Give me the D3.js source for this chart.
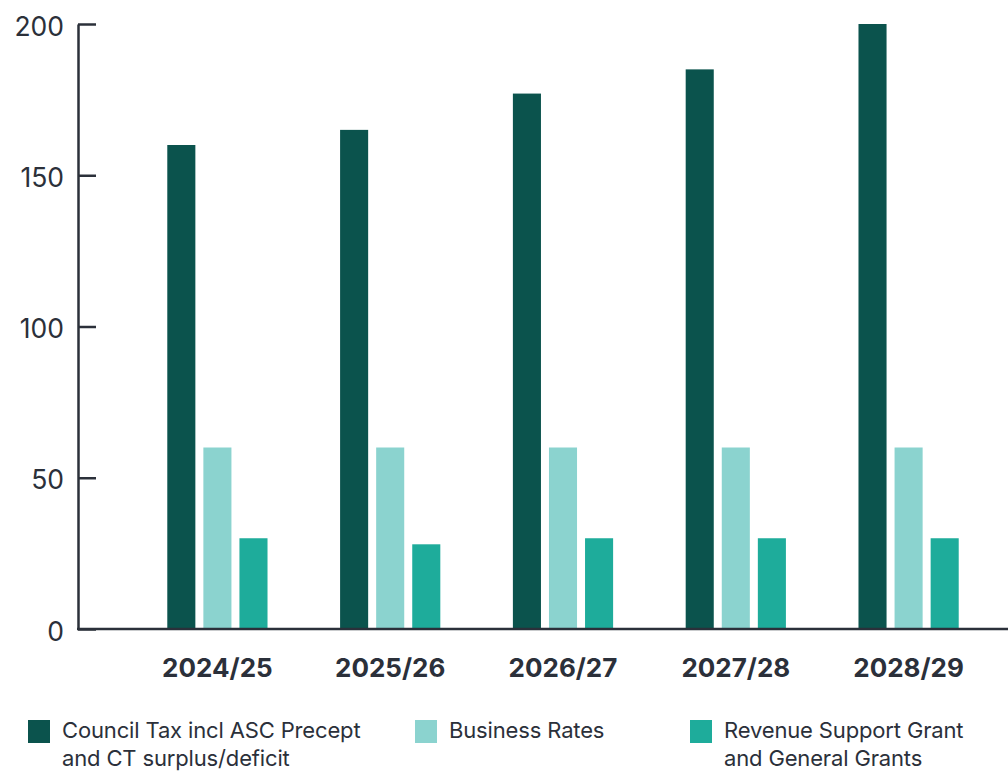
<!DOCTYPE html>
<html>
<head>
<meta charset="utf-8">
<script src="https://cdn.jsdelivr.net/npm/d3@7"></script>
<style>
  html, body { margin: 0; padding: 0; background: #fff; }
  svg { display: block; }
  svg text { font-family: "Inter", "Noto Sans", sans-serif; }
</style>
</head>
<body>
<div id="chart"></div>
<script>
// Data
const years = ["2024/25", "2025/26", "2026/27", "2027/28", "2028/29"];
const seriesNames = ["Council Tax incl ASC Precept\nand CT surplus/deficit", "Business Rates", "Revenue Support Grant\nand General Grants"];
const councilTax = [160, 165, 177, 185, 200];
const businessRates = [60, 60, 60, 60, 60];
const revenueSupport = [30, 28, 30, 30, 30];
const yTicks = [0, 50, 100, 150, 200];

const colors = ["#0b534d", "#8bd3cf", "#1eac9b"];
const ink = "#2b303a";

const width = 1008, height = 771;
const allSeries = [councilTax, businessRates, revenueSupport];

const svg = d3.select("#chart").append("svg")
  .attr("width", width)
  .attr("height", height);

// Scales
const y = d3.scaleLinear().domain([0, 200]).range([629, 24]);

const x0 = d3.scaleBand()
  .domain(years)
  .range([131, 995])
  .paddingInner(0.42)
  .paddingOuter(0.21);

const x1 = d3.scaleBand()
  .domain(d3.range(allSeries.length))
  .range([0, x0.bandwidth()])
  .paddingInner(0.222);

// Y axis
const yAxis = d3.axisLeft(y)
  .tickValues(yTicks)
  .tickSize(-18)
  .tickSizeOuter(0)
  .tickPadding(14);

const gy = svg.append("g")
  .attr("transform", "translate(78,0)")
  .call(yAxis)
  .attr("font-family", null);

gy.select(".domain").attr("stroke", ink).attr("stroke-width", 2.5);
gy.selectAll(".tick line").attr("stroke", ink).attr("stroke-width", 2.5);
gy.selectAll(".tick text")
  .attr("fill", ink)
  .attr("dy", "0.42em")
  .style("font-size", "26.5px")
  .style("font-weight", 400);

// Bars
const groups = svg.append("g")
  .selectAll("g")
  .data(years)
  .join("g")
  .attr("transform", d => `translate(${x0(d)},0)`);

groups.selectAll("rect")
  .data((d, i) => allSeries.map((s, k) => ({ k: k, v: s[i] })))
  .join("rect")
  .attr("x", d => x1(d.k))
  .attr("y", d => y(d.v))
  .attr("width", x1.bandwidth())
  .attr("height", d => y(0) - y(d.v))
  .attr("fill", d => colors[d.k]);

// X baseline
svg.append("line")
  .attr("x1", 77)
  .attr("x2", width)
  .attr("y1", y(0))
  .attr("y2", y(0))
  .attr("stroke", ink)
  .attr("stroke-width", 2.5);

// X labels
svg.append("g")
  .selectAll("text")
  .data(years)
  .join("text")
  .attr("x", d => x0(d) + x0.bandwidth() / 2)
  .attr("y", 677)
  .attr("text-anchor", "middle")
  .attr("fill", ink)
  .style("font-size", "26px")
  .style("font-weight", 700)
  .text(d => d);

// Legend
const legendX = [28, 415, 690];
const legend = svg.append("g")
  .selectAll("g")
  .data(seriesNames)
  .join("g")
  .attr("transform", (d, i) => `translate(${legendX[i]},720)`);

legend.append("rect")
  .attr("width", 22)
  .attr("height", 23)
  .attr("fill", (d, i) => colors[i]);

legend.append("text")
  .attr("x", 34)
  .attr("y", 18)
  .attr("fill", ink)
  .style("font-size", "22px")
  .style("letter-spacing", "-0.15px")
  .selectAll("tspan")
  .data(d => d.split("\n"))
  .join("tspan")
  .attr("x", 34)
  .attr("dy", (d, i) => i === 0 ? 0 : 28)
  .text(d => d);
</script>
</body>
</html>
